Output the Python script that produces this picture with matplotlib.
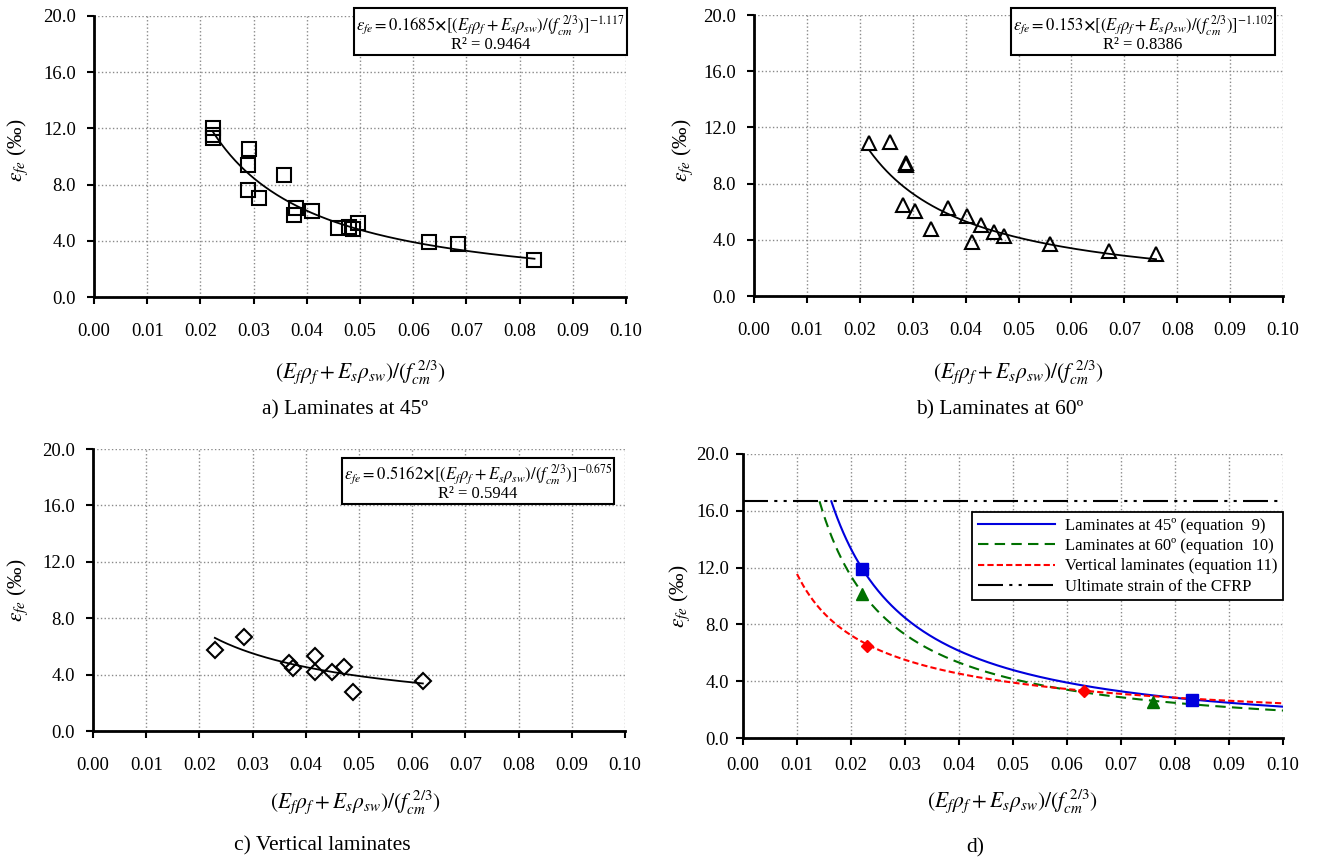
import numpy as np
import matplotlib
matplotlib.use("Agg")
import matplotlib.pyplot as plt

plt.rcParams['font.family'] = ['Liberation Serif', 'DejaVu Serif']
plt.rcParams['mathtext.fontset'] = 'stix'

# a) laminates at 45
x45 = [0.0223, 0.0223, 0.0223, 0.0292, 0.0289, 0.0358, 0.0289, 0.0311, 0.0380,
       0.0375, 0.0410, 0.0458, 0.0480, 0.0486, 0.0496, 0.0629, 0.0685, 0.0828]
y45 = [12.0, 11.5, 11.3, 10.5, 9.37, 8.69, 7.62, 7.05, 6.32,
       5.82, 6.10, 4.94, 5.00, 4.83, 5.25, 3.88, 3.74, 2.60]

# b) laminates at 60
x60 = [0.0218, 0.0257, 0.0287, 0.0288, 0.0282, 0.0305, 0.0334, 0.0366, 0.0402,
       0.0412, 0.0429, 0.0454, 0.0473, 0.0560, 0.0672, 0.0760]
y60 = [10.90, 10.96, 9.30, 9.45, 6.50, 6.07, 4.76, 6.26, 5.71,
       3.81, 5.07, 4.52, 4.24, 3.67, 3.20, 2.98]

# c) vertical laminates
xv = [0.0229, 0.0284, 0.0368, 0.0375, 0.0418, 0.0418, 0.0450, 0.0472, 0.0489, 0.0620]
yv = [5.77, 6.64, 4.82, 4.49, 5.34, 4.16, 4.16, 4.54, 2.80, 3.55]

# trendline coefficients  eps = a * x^b  (and R2)
coef = {'45': (0.1685, -1.117, 0.9464),
        '60': (0.153, -1.102, 0.8386),
        'v': (0.5162, -0.675, 0.5944)}

# d) end points marked on the design curves
d_x45, d_y45 = [0.0221, 0.0831], [11.91, 2.69]
d_x60, d_y60 = [0.0221, 0.0760], [10.16, 2.52]
d_xv, d_yv = [0.0229, 0.0631], [6.50, 3.34]
eps_ult = 16.67
x_min_d = 0.01

W, H = 1317, 863
fig = plt.figure(figsize=(W / 100, H / 100), dpi=100)


def rect(l, r, t, b):
    return [l / W, 1 - b / H, (r - l) / W, (b - t) / H]


xlab = r'$(E_f\rho_f+E_s\rho_{sw})/(f_{cm}^{\ 2/3})$'
ylab = r'$\varepsilon_{fe}$' + ' (‰)'


def style(ax, xpad=14, ypad=8):
    ax.set_xlim(0, 0.1)
    ax.set_ylim(0, 20)
    ax.set_xticks(np.arange(0, 0.1001, 0.01))
    ax.set_yticks(np.arange(0, 20.01, 4))
    ax.xaxis.set_major_formatter(plt.FormatStrFormatter('%.2f'))
    ax.yaxis.set_major_formatter(plt.FormatStrFormatter('%.1f'))
    ax.grid(True, ls=':', color='#8a8a8a', lw=1.0)
    ax.spines['top'].set_visible(False)
    ax.spines['right'].set_visible(False)
    ax.spines['left'].set_linewidth(2)
    ax.spines['bottom'].set_linewidth(2)
    ax.tick_params(axis='x', direction='out', length=5, width=1.5, labelsize=13.5, pad=xpad)
    ax.tick_params(axis='y', direction='out', length=5, width=1.5, labelsize=13.5, pad=ypad)
    ax.set_axisbelow(True)


def eq_box(ax, key, xc, yt):
    a, b, r2 = coef[key]
    s = (r'$\varepsilon_{fe}=' + str(a) + r'\mathbf{\times}[(E_f\rho_f+E_s\rho_{sw})/(f_{cm}^{\ 2/3})]^{'
         + str(b) + r'}$' + '\n' + 'R² = ' + str(r2))
    ax.text(xc, yt, s, transform=ax.transAxes, ha='center', va='top', multialignment='center',
            fontsize=12, linespacing=0.9, clip_on=False, zorder=5,
            bbox=dict(boxstyle='square,pad=0.12', fc='white', ec='black', lw=1.5))


def trend(ax, xs, key):
    a, b, _ = coef[key]
    xx = np.linspace(min(xs), max(xs), 200)
    ax.plot(xx, a * xx ** b, color='black', lw=1.3, zorder=3)


# panel a
ax1 = fig.add_axes(rect(94, 626, 16, 297))
style(ax1)
trend(ax1, x45, '45')
ax1.plot(x45, y45, ls='none', marker='s', ms=10, mfc='none', mec='black', mew=1.5, zorder=4)
eq_box(ax1, '45', 0.745, 1.008)

# panel b
ax2 = fig.add_axes(rect(754, 1283, 15, 296))
style(ax2)
trend(ax2, x60, '60')
ax2.plot(x60, y60, ls='none', marker='^', ms=10, mfc='none', mec='black', mew=1.5, zorder=4)
eq_box(ax2, '60', 0.735, 1.006)

# panel c
ax3 = fig.add_axes(rect(93, 625, 449, 731))
style(ax3)
trend(ax3, xv, 'v')
ax3.plot(xv, yv, ls='none', marker='D', ms=8, mfc='none', mec='black', mew=1.5, zorder=4)
eq_box(ax3, 'v', 0.724, 0.951)

# panel d
ax4 = fig.add_axes(rect(743, 1283, 454, 738))
style(ax4, xpad=9, ypad=5)
a, b, _ = coef['45']
xx = np.linspace(max(x_min_d, (eps_ult / a) ** (1 / b)), 0.1, 300)
ax4.plot(xx, a * xx ** b, color='#0000DD', lw=1.5, label='Laminates at 45º (equation  9)')
a, b, _ = coef['60']
xx = np.linspace(max(x_min_d, (eps_ult / a) ** (1 / b)), 0.1, 300)
ax4.plot(xx, a * xx ** b, color='#007000', lw=1.5, ls=(0, (5, 3)), label='Laminates at 60º (equation  10)')
a, b, _ = coef['v']
xx = np.linspace(max(x_min_d, (eps_ult / a) ** (1 / b)), 0.1, 300)
ax4.plot(xx, a * xx ** b, color='#FF0000', lw=1.5, ls=(0, (3, 1.5)), label='Vertical laminates (equation 11)')
ax4.axhline(eps_ult, color='black', lw=1.5, ls=(0, (12, 3, 1.5, 3, 1.5, 3)),
            label='Ultimate strain of the CFRP')
ax4.plot(d_x45, d_y45, ls='none', marker='s', ms=9, color='#0000DD', zorder=5)
ax4.plot(d_x60, d_y60, ls='none', marker='^', ms=9, color='#007000', zorder=5)
ax4.plot(d_xv, d_yv, ls='none', marker='D', ms=6, color='#FF0000', zorder=5)
leg = ax4.legend(loc='upper right', bbox_to_anchor=(1.0, 0.795), fontsize=12, frameon=True,
                 fancybox=False, edgecolor='black', handlelength=4.6, borderaxespad=0,
                 labelspacing=0.25, borderpad=0.35, framealpha=1, handletextpad=0.6)
leg.get_frame().set_linewidth(1.3)

# axis titles and captions
for (x, y) in [(360, 372), (1018, 372), (355, 802)]:
    fig.text(x / W, 1 - y / H, xlab, ha='center', va='center', fontsize=15.5)
fig.text(1012 / W, 1 - 801 / H, xlab, ha='center', va='center', fontsize=15.5)
for (x, y) in [(18, 150), (683, 150), (18, 590), (680, 596)]:
    fig.text(x / W, 1 - y / H, ylab, ha='center', va='center', rotation=90, fontsize=15.5)

fig.text(345 / W, 1 - 410 / H, 'a) Laminates at 45º', ha='center', va='center', fontsize=15.5)
fig.text(1000 / W, 1 - 410 / H, 'b) Laminates at 60º', ha='center', va='center', fontsize=15.5)
fig.text(322 / W, 1 - 846 / H, 'c) Vertical laminates', ha='center', va='center', fontsize=15.5)
fig.text(975 / W, 1 - 848 / H, 'd)', ha='center', va='center', fontsize=15.5)

fig.savefig('out.png', dpi=100)
